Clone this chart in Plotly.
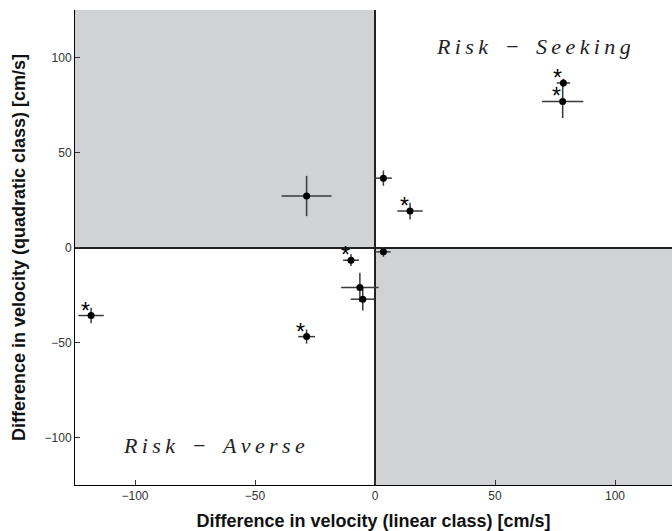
import plotly.graph_objects as go

# Data
x_vals = [-28.5, 78.5, 78.2, 3.5, 14.6, 3.5, -118.3, -28.5, -10.0, -6.3, -5.1]
y_vals = [27.1, 86.6, 76.9, 36.5, 19.2, -2.3, -35.8, -46.9, -6.7, -21.0, -27.2]
x_err = [10.4, 2.8, 8.6, 3.5, 5.3, 3.0, 5.3, 3.5, 3.3, 7.8, 5.0]
y_err = [10.6, 2.2, 8.8, 4.0, 4.4, 2.6, 4.1, 3.7, 3.1, 7.7, 5.9]
significant = [False, True, True, False, True, False, True, True, True, False, False]

x_range = [-125, 123.75]
y_range = [-125, 125]
x_ticks = [-100, -50, 0, 50, 100]
y_ticks = [-100, -50, 0, 50, 100]
tick_text = ["−100", "−50", "0", "50", "100"]

quadrant_labels = ["Risk − Seeking", "Risk − Averse"]
quadrant_pos = [(66, 106), (-67, -104)]

gray = "#d1d2d4"

def spaced(s):
    out = []
    for w in s.split(" "):
        if w == "−":
            out.append("\u2002" + w + "\u2002")
        else:
            out.append("\u2009".join(list(w)))
    return "\u00a0".join(out)

fig = go.Figure()

fig.add_trace(go.Scatter(
    x=x_vals, y=y_vals, mode="markers",
    marker=dict(color="black", size=7),
    error_x=dict(type="data", array=x_err, color="#3a3a3a", thickness=1.5, width=0),
    error_y=dict(type="data", array=y_err, color="#3a3a3a", thickness=1.5, width=0),
    showlegend=False, hoverinfo="skip",
))

shapes = [
    dict(type="rect", xref="x", yref="y", x0=x_range[0], x1=0, y0=0, y1=y_range[1],
         fillcolor=gray, line=dict(width=0), layer="below"),
    dict(type="rect", xref="x", yref="y", x0=0, x1=x_range[1], y0=y_range[0], y1=0,
         fillcolor=gray, line=dict(width=0), layer="below"),
]

annotations = []
for xv, yv, sig in zip(x_vals, y_vals, significant):
    if sig:
        annotations.append(dict(x=xv, y=yv, xref="x", yref="y", text="*", showarrow=False,
                                xanchor="center", yanchor="middle", xshift=-6, yshift=5,
                                font=dict(family="Liberation Sans", size=23, color="black")))
for lbl, (px, py) in zip(quadrant_labels, quadrant_pos):
    annotations.append(dict(x=px, y=py, xref="x", yref="y", text=spaced(lbl), showarrow=False,
                            xanchor="center", yanchor="middle",
                            font=dict(family="Liberation Serif", size=22, color="#222", style="italic")))

axis_common = dict(
    showgrid=False, zeroline=True, zerolinecolor="#222", zerolinewidth=1.5,
    showline=True, linecolor="black", linewidth=1, mirror=False,
    ticks="inside", ticklen=5, tickcolor="#333", tickwidth=1, automargin=False,
    tickfont=dict(family="Liberation Sans", size=12, color="#333"),
)

fig.update_layout(
    width=672, height=531,
    margin=dict(l=75, r=0, t=10, b=46),
    paper_bgcolor="white", plot_bgcolor="white",
    shapes=shapes, annotations=annotations,
    xaxis=dict(range=x_range, tickvals=x_ticks, ticktext=tick_text,
               title=dict(text="Difference in velocity (linear class) [cm/s]", standoff=13,
                          font=dict(family="Liberation Sans", size=18, color="#111", weight="bold")),
               **axis_common),
    yaxis=dict(range=y_range, tickvals=y_ticks, ticktext=tick_text,
               title=dict(text="Difference in velocity (quadratic class) [cm/s]", standoff=14,
                          font=dict(family="Liberation Sans", size=18, color="#111", weight="bold")),
               **axis_common),
)

fig.write_html("out.html", config={"displayModeBar": False},
               post_script="document.body.style.margin='0px';")
